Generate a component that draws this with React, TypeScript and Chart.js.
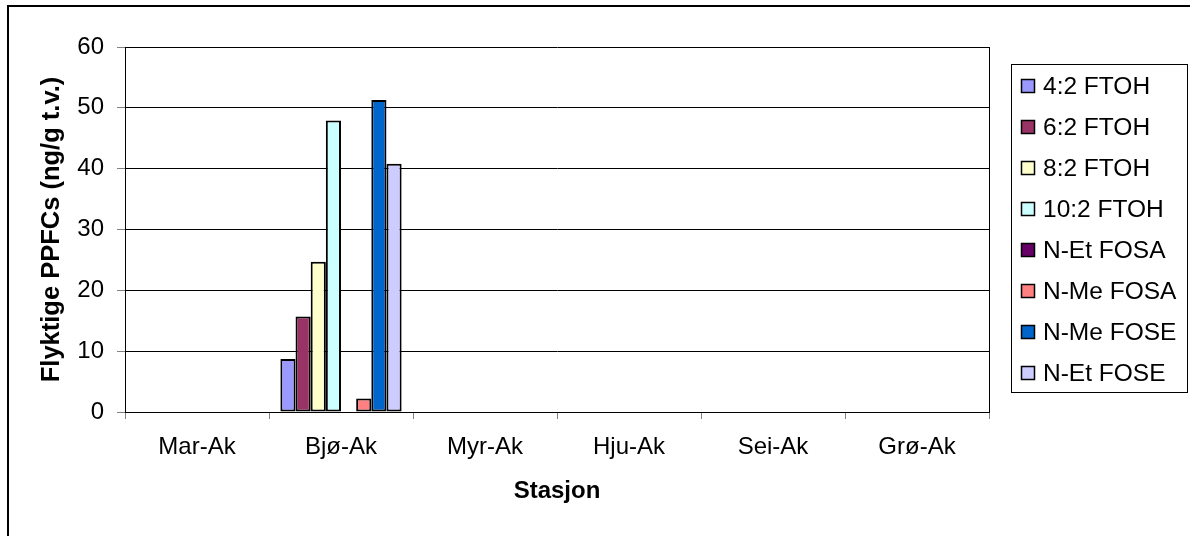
import React, { useEffect, useRef } from "react";
import { Chart, registerables } from "chart.js";

Chart.register(...registerables);

const categories = ["Mar-Ak", "Bjø-Ak", "Myr-Ak", "Hju-Ak", "Sei-Ak", "Grø-Ak"];

const seriesNames = [
  "4:2 FTOH",
  "6:2 FTOH",
  "8:2 FTOH",
  "10:2 FTOH",
  "N-Et FOSA",
  "N-Me FOSA",
  "N-Me FOSE",
  "N-Et FOSE",
];

const seriesColors = [
  "#9999FF",
  "#993366",
  "#FFFFCC",
  "#CCFFFF",
  "#660066",
  "#FF8080",
  "#0066CC",
  "#CCCCFF",
];

const ftoh42 = [0, 8.7, 0, 0, 0, 0];
const ftoh62 = [0, 15.7, 0, 0, 0, 0];
const ftoh82 = [0, 24.7, 0, 0, 0, 0];
const ftoh102 = [0, 47.9, 0, 0, 0, 0];
const nEtFosa = [0, 0, 0, 0, 0, 0];
const nMeFosa = [0, 2.2, 0, 0, 0, 0];
const nMeFose = [0, 51.3, 0, 0, 0, 0];
const nEtFose = [0, 40.8, 0, 0, 0, 0];

const seriesValues = [ftoh42, ftoh62, ftoh82, ftoh102, nEtFosa, nMeFosa, nMeFose, nEtFose];

const yTicks = [0, 10, 20, 30, 40, 50, 60];

const FONT = "'Liberation Sans', Arial, sans-serif";

const framePlugin = {
  id: "framePlugin",
  afterDraw(chart: any) {
    const ctx = chart.ctx;
    const ca = chart.chartArea;
    ctx.save();
    // outer chart frame (top and left visible)
    ctx.strokeStyle = "#000";
    ctx.lineWidth = 2;
    ctx.beginPath();
    ctx.moveTo(8, chart.height + 5);
    ctx.lineTo(8, 6);
    ctx.lineTo(chart.width + 5, 6);
    ctx.stroke();
    // plot area right border
    ctx.lineWidth = 1;
    ctx.beginPath();
    ctx.moveTo(Math.round(ca.right) + 0.5, ca.top);
    ctx.lineTo(Math.round(ca.right) + 0.5, ca.bottom);
    ctx.stroke();
    // legend
    const lx = 1011.5, ly = 64.5, lw = 176, lh = 328;
    ctx.fillStyle = "#fff";
    ctx.fillRect(lx, ly, lw, lh);
    ctx.strokeStyle = "#000";
    ctx.lineWidth = 1;
    ctx.strokeRect(lx, ly, lw, lh);
    ctx.font = `24.5px ${FONT}`;
    ctx.textBaseline = "middle";
    ctx.textAlign = "left";
    chart.data.datasets.forEach((ds: any, i: number) => {
      const cy = 86 + i * 41;
      ctx.fillStyle = ds.backgroundColor;
      ctx.fillRect(1021.5, cy - 6.5, 13, 13);
      ctx.strokeStyle = "#000";
      ctx.lineWidth = 1.5;
      ctx.strokeRect(1021.5, cy - 6.5, 13, 13);
      ctx.fillStyle = "#000";
      ctx.fillText(ds.label, 1043, cy + 1);
    });
    ctx.restore();
  },
};

export default function App() {
  const canvasRef = useRef<HTMLCanvasElement | null>(null);

  useEffect(() => {
    const canvas = canvasRef.current;
    if (!canvas) return;
    const chart = new Chart(canvas, {
      type: "bar",
      data: {
        labels: categories,
        datasets: seriesNames.map((name, i) => ({
          label: name,
          data: seriesValues[i],
          backgroundColor: seriesColors[i],
          borderColor: "#000",
          borderWidth: (c: any) => (c.raw ? 2 : 0),
          borderSkipped: false,
          categoryPercentage: 0.842,
          barPercentage: 1,
        })),
      },
      options: {
        responsive: false,
        animation: false,
        devicePixelRatio: 1,
        layout: { padding: { left: 0, top: 47, right: 201, bottom: 0 } },
        plugins: {
          legend: { display: false },
          tooltip: { enabled: false },
        },
        scales: {
          x: {
            grid: {
              display: true,
              drawOnChartArea: false,
              drawTicks: true,
              tickLength: 7,
              tickColor: "#808080",
              offset: true,
            },
            border: { display: true, color: "#000", width: 1 },
            ticks: {
              color: "#000",
              font: { family: FONT, size: 24 },
              padding: 14,
              maxRotation: 0,
              autoSkip: false,
            },
            title: {
              display: true,
              text: "Stasjon",
              color: "#000",
              font: { family: FONT, size: 24, weight: "bold" },
              padding: { top: 0, bottom: 30 },
            },
            afterFit: (s: any) => {
              s.height = 124;
            },
          },
          y: {
            min: 0,
            max: 60,
            afterBuildTicks: (s: any) => {
              s.ticks = yTicks.map((v) => ({ value: v }));
            },
            grid: {
              color: "#000",
              lineWidth: 1,
              drawTicks: true,
              tickLength: 8,
              tickColor: "#808080",
            },
            border: { display: true, color: "#000", width: 1 },
            ticks: {
              color: "#000",
              font: { family: FONT, size: 24 },
              padding: 13,
            },
            title: {
              display: true,
              text: "Flyktige PPFCs (ng/g t.v.)",
              color: "#000",
              font: { family: FONT, size: 25.5, weight: "bold" },
              padding: { top: 37, bottom: 0 },
            },
            afterFit: (s: any) => {
              s.width = 125;
            },
          },
        },
      },
      plugins: [framePlugin],
    });
    return () => chart.destroy();
  }, []);

  return (
    <div style={{ position: "absolute", left: 0, top: 0, width: 1190, height: 536, background: "#fff" }}>
      <canvas ref={canvasRef} width={1190} height={536} style={{ display: "block" }} />
    </div>
  );
}
